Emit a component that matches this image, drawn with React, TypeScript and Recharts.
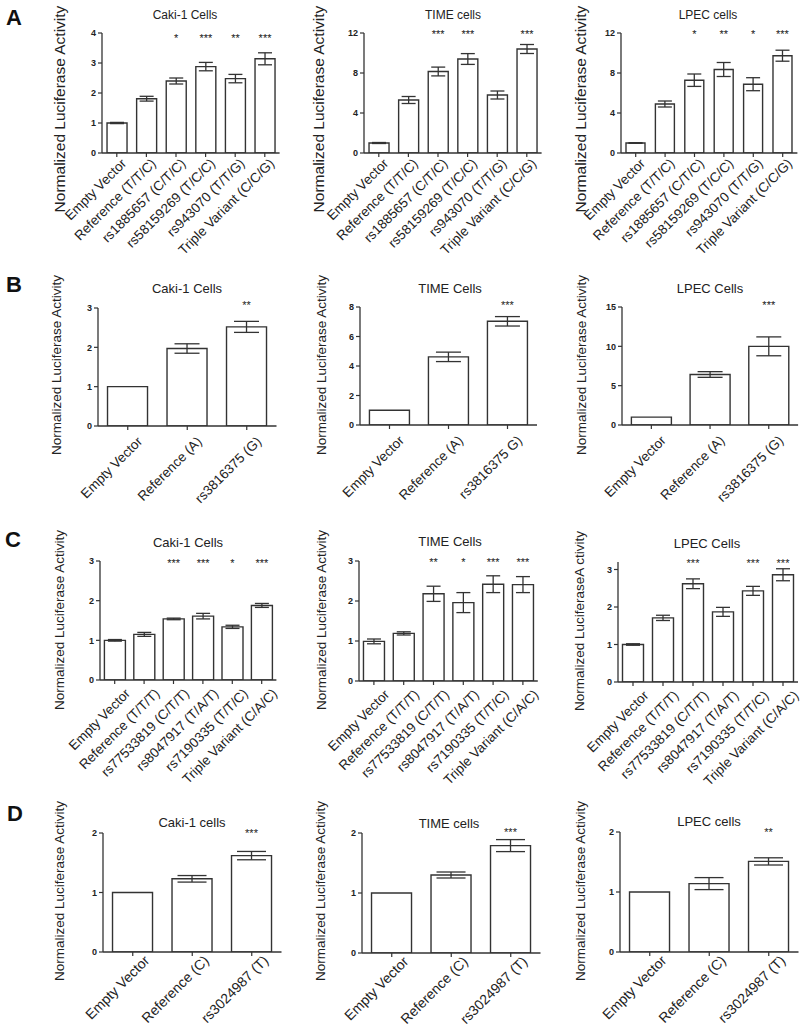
import React from 'react';
import { BarChart, Bar, XAxis, YAxis, ErrorBar, LabelList } from 'recharts';

// ---------- categories ----------
const catsA = ['Empty Vector', 'Reference (T/T/C)', 'rs1885657 (C/T/C)', 'rs58159269 (T/C/C)', 'rs943070 (T/T/G)', 'Triple Variant (C/C/G)'];
const catsB = ['Empty Vector', 'Reference (A)', 'rs3816375 (G)'];
const catsBTime = ['Empty Vector', 'Reference (A)', 'rs3816375 G)'];
const catsC = ['Empty Vector', 'Reference (T/T/T)', 'rs77533819 (C/T/T)', 'rs8047917 (T/A/T)', 'rs7190335 (T/T/C)', 'Triple Variant (C/A/C)'];
const catsD = ['Empty Vector', 'Reference (C)', 'rs3024987 (T)'];

// ---------- values, errors, significance ----------
const a1Values = [1.0, 1.81, 2.4, 2.88, 2.48, 3.14];
const a1Errors = [0.02, 0.08, 0.1, 0.14, 0.14, 0.2];
const a1Stars = ['', '', '*', '***', '**', '***'];

const a2Values = [1.0, 5.3, 8.15, 9.4, 5.8, 10.4];
const a2Errors = [0.05, 0.35, 0.44, 0.54, 0.4, 0.45];
const a2Stars = ['', '', '***', '***', '', '***'];

const a3Values = [1.0, 4.9, 7.28, 8.35, 6.88, 9.73];
const a3Errors = [0.03, 0.3, 0.62, 0.7, 0.65, 0.55];
const a3Stars = ['', '', '*', '**', '*', '***'];

const b1Values = [1.0, 1.97, 2.52];
const b1Errors = [0, 0.12, 0.14];
const b1Stars = ['', '', '**'];

const b2Values = [1.0, 4.62, 7.03];
const b2Errors = [0, 0.32, 0.32];
const b2Stars = ['', '', '***'];

const b3Values = [1.0, 6.42, 10.0];
const b3Errors = [0, 0.36, 1.2];
const b3Stars = ['', '', '***'];

const c1Values = [1.0, 1.15, 1.54, 1.61, 1.34, 1.88];
const c1Errors = [0.02, 0.05, 0.02, 0.07, 0.04, 0.05];
const c1Stars = ['', '', '***', '***', '*', '***'];

const c2Values = [0.99, 1.19, 2.18, 1.96, 2.42, 2.41];
const c2Errors = [0.06, 0.04, 0.19, 0.25, 0.21, 0.2];
const c2Stars = ['', '', '**', '*', '***', '***'];

const c3Values = [1.0, 1.71, 2.62, 1.87, 2.43, 2.86];
const c3Errors = [0.02, 0.07, 0.13, 0.12, 0.12, 0.16];
const c3Stars = ['', '', '***', '', '***', '***'];

const d1Values = [1.0, 1.23, 1.62];
const d1Errors = [0, 0.055, 0.07];
const d1Stars = ['', '', '***'];

const d2Values = [1.0, 1.3, 1.79];
const d2Errors = [0, 0.05, 0.1];
const d2Stars = ['', '', '***'];

const d3Values = [1.0, 1.14, 1.51];
const d3Errors = [0, 0.1, 0.06];
const d3Stars = ['', '', '**'];

// ---------- axis ticks ----------
const ticksA1 = [0, 1, 2, 3, 4];
const ticksA23 = [0, 4, 8, 12];
const ticksB1 = [0, 1, 2, 3];
const ticksB2 = [0, 2, 4, 6, 8];
const ticksB3 = [0, 5, 10, 15];
const ticksC = [0, 1, 2, 3];
const ticksD = [0, 1, 2];

// ---------- titles ----------
const yLabel = 'Normalized Luciferase Activity';
const yLabelTypo = 'Normalized LuciferaseA ctivity';

const FONT = '"Liberation Sans", Arial, Helvetica, sans-serif';
const INK = '#222222';

function build(cats: string[], values: number[], errors: number[], stars: string[]) {
  return cats.map((name, i) => ({ name, value: values[i], err: errors[i], stars: stars[i] }));
}

type PanelCfg = {
  data: any[];
  axisX: number;
  top: number;
  bottom: number;
  band: number;
  domain: [number, number];
  ticks: number[];
  cap: number;
  gap: string;
  catFont: number;
  tdx: number;
  tdy: number;
  starY: number;
  xh: number;
  title: string;
  titleX: number;
  titleY: number;
  titleFont: number;
  ylabel: string;
  ylX: number;
  ylY: number;
  ylFont: number;
};

const YW = 110;
const MT = 14;
const MR = 14;

function makeTick(fs: number, tdx: number, tdy: number) {
  return (props: any) => {
    const { x, y, payload } = props;
    return (
      <g transform={`translate(${x + tdx},${y + tdy})`}>
        <text x={0} y={0} dy="0.35em" textAnchor="end" transform="rotate(-45)" fontSize={fs} fill={INK} fontFamily={FONT}>
          {payload.value}
        </text>
      </g>
    );
  };
}

function Panel({ c }: { c: PanelCfg }) {
  const n = c.data.length;
  const plotW = n * c.band;
  const plotH = c.bottom - c.top;
  const W = YW + plotW + MR;
  const H = MT + plotH + c.xh;
  const starOffset = c.starY - c.top;
  const starContent = (p: any) => {
    const vb = p.viewBox || p;
    const cx = (vb.x ?? p.x) + (vb.width ?? p.width) / 2;
    const v = p.value;
    if (!v) return null;
    return (
      <text x={cx} y={MT + starOffset + 6} textAnchor="middle" fontSize={11} fill={INK} fontFamily={FONT}>
        {v}
      </text>
    );
  };
  return (
    <>
      <div style={{ position: 'absolute', left: c.axisX - YW, top: c.top - MT }}>
        <BarChart width={W} height={H} data={c.data} margin={{ top: MT, right: MR, left: 0, bottom: 0 }} barCategoryGap={c.gap}>
          <XAxis
            dataKey="name"
            height={c.xh}
            interval={0}
            tick={makeTick(c.catFont, c.tdx, c.tdy)}
            tickSize={4}
            axisLine={{ stroke: '#333', strokeWidth: 1.3 }}
            tickLine={{ stroke: '#333', strokeWidth: 1.2 }}
          />
          <YAxis
            width={YW}
            domain={c.domain}
            ticks={c.ticks}
            interval={0}
            tickSize={4}
            allowDataOverflow
            axisLine={{ stroke: '#333', strokeWidth: 1.3 }}
            tickLine={{ stroke: '#333', strokeWidth: 1.2 }}
            tick={{ fontSize: 9, fontWeight: 700, fill: INK, fontFamily: FONT }}
          />
          <Bar dataKey="value" fill="#ffffff" stroke="#333" strokeWidth={1.4} isAnimationActive={false}>
            <ErrorBar dataKey="err" width={c.cap / 2} stroke="#333" strokeWidth={1.3} isAnimationActive={false} />
            <LabelList dataKey="stars" content={starContent} />
          </Bar>
        </BarChart>
      </div>
      <div
        style={{
          position: 'absolute',
          left: c.titleX,
          top: c.titleY,
          transform: 'translate(-50%, -50%)',
          fontSize: c.titleFont,
          whiteSpace: 'nowrap',
          color: INK,
          lineHeight: 1,
        }}
      >
        {c.title}
      </div>
      <div
        style={{
          position: 'absolute',
          left: c.ylX,
          top: c.ylY,
          transform: 'translate(-50%, -50%) rotate(-90deg)',
          fontSize: c.ylFont,
          whiteSpace: 'nowrap',
          color: INK,
          lineHeight: 1,
        }}
      >
        {c.ylabel}
      </div>
    </>
  );
}

const panels: PanelCfg[] = [
  // Row A
  { data: build(catsA, a1Values, a1Errors, a1Stars), axisX: 102, top: 33, bottom: 153, band: 29.6, domain: [0, 4], ticks: ticksA1, cap: 14, gap: '17%', catFont: 13.5, tdx: 7, tdy: 2, starY: 36, xh: 118, title: 'Caki-1 Cells', titleX: 185, titleY: 15, titleFont: 12, ylabel: yLabel, ylX: 60, ylY: 109, ylFont: 15.5 },
  { data: build(catsA, a2Values, a2Errors, a2Stars), axisX: 364, top: 33, bottom: 153, band: 29.6, domain: [0, 12], ticks: ticksA23, cap: 14, gap: '17%', catFont: 13.5, tdx: 7, tdy: 2, starY: 32, xh: 118, title: 'TIME cells', titleX: 453, titleY: 15, titleFont: 12, ylabel: yLabel, ylX: 319, ylY: 109, ylFont: 15.5 },
  { data: build(catsA, a3Values, a3Errors, a3Stars), axisX: 620.5, top: 33, bottom: 153, band: 29.4, domain: [0, 12], ticks: ticksA23, cap: 14, gap: '17%', catFont: 13.5, tdx: 7, tdy: 2, starY: 32, xh: 118, title: 'LPEC cells', titleX: 708, titleY: 15, titleFont: 12, ylabel: yLabel, ylX: 581, ylY: 109, ylFont: 15.5 },
  // Row B
  { data: build(catsB, b1Values, b1Errors, b1Stars), axisX: 98, top: 308, bottom: 426, band: 59.5, domain: [0, 3], ticks: ticksB1, cap: 25, gap: '16%', catFont: 13.5, tdx: 12, tdy: 7, starY: 303, xh: 100, title: 'Caki-1 Cells', titleX: 187, titleY: 288, titleFont: 13, ylabel: yLabel, ylX: 57, ylY: 365, ylFont: 13.5 },
  { data: build(catsBTime, b2Values, b2Errors, b2Stars), axisX: 360, top: 307, bottom: 425, band: 59, domain: [0, 8], ticks: ticksB2, cap: 25, gap: '16%', catFont: 13.5, tdx: 12, tdy: 7, starY: 303, xh: 100, title: 'TIME Cells', titleX: 450, titleY: 288, titleFont: 13, ylabel: yLabel, ylX: 322, ylY: 365, ylFont: 13.5 },
  { data: build(catsB, b3Values, b3Errors, b3Stars), axisX: 622, top: 307, bottom: 425, band: 58.7, domain: [0, 15], ticks: ticksB3, cap: 25, gap: '16%', catFont: 13.5, tdx: 12, tdy: 7, starY: 303, xh: 100, title: 'LPEC Cells', titleX: 710, titleY: 288, titleFont: 13, ylabel: yLabel, ylX: 582, ylY: 365, ylFont: 13.5 },
  // Row C
  { data: build(catsC, c1Values, c1Errors, c1Stars), axisX: 100, top: 561, bottom: 680, band: 29.4, domain: [0, 3], ticks: ticksC, cap: 14, gap: '15%', catFont: 13.5, tdx: 13, tdy: 5, starY: 561, xh: 125, title: 'Caki-1 Cells', titleX: 188, titleY: 542, titleFont: 13, ylabel: yLabel, ylX: 60, ylY: 620, ylFont: 13.5 },
  { data: build(catsC, c2Values, c2Errors, c2Stars), axisX: 359, top: 561, bottom: 681, band: 29.8, domain: [0, 3], ticks: ticksC, cap: 14, gap: '15%', catFont: 13.5, tdx: 13, tdy: 5, starY: 560, xh: 125, title: 'TIME Cells', titleX: 450, titleY: 541, titleFont: 13, ylabel: yLabel, ylX: 322, ylY: 620, ylFont: 13.5 },
  { data: build(catsC, c3Values, c3Errors, c3Stars), axisX: 617.5, top: 562, bottom: 682, band: 30, domain: [0, 3.2], ticks: ticksC, cap: 14, gap: '15%', catFont: 13.5, tdx: 13, tdy: 5, starY: 561, xh: 125, title: 'LPEC Cells', titleX: 707, titleY: 543, titleFont: 13, ylabel: yLabelTypo, ylX: 580, ylY: 621, ylFont: 13.5 },
  // Row D
  { data: build(catsD, d1Values, d1Errors, d1Stars), axisX: 103, top: 833, bottom: 952, band: 59.5, domain: [0, 2], ticks: ticksD, cap: 29, gap: '16%', catFont: 14, tdx: 14, tdy: 0, starY: 831, xh: 76, title: 'Caki-1 cells', titleX: 192, titleY: 822, titleFont: 13, ylabel: yLabel, ylX: 60, ylY: 891, ylFont: 13.5 },
  { data: build(catsD, d2Values, d2Errors, d2Stars), axisX: 362, top: 833, bottom: 953, band: 59.5, domain: [0, 2], ticks: ticksD, cap: 29, gap: '16%', catFont: 14, tdx: 14, tdy: 0, starY: 830, xh: 75, title: 'TIME cells', titleX: 449, titleY: 823, titleFont: 13, ylabel: yLabel, ylX: 321, ylY: 891, ylFont: 13.5 },
  { data: build(catsD, d3Values, d3Errors, d3Stars), axisX: 620, top: 832, bottom: 952, band: 59.5, domain: [0, 2], ticks: ticksD, cap: 29, gap: '16%', catFont: 14, tdx: 14, tdy: 0, starY: 830, xh: 76, title: 'LPEC cells', titleX: 709, titleY: 821, titleFont: 13, ylabel: yLabel, ylX: 581, ylY: 891, ylFont: 13.5 },
];

const letters = [
  { t: 'A', x: 14, y: 18 },
  { t: 'B', x: 14, y: 285 },
  { t: 'C', x: 13, y: 540 },
  { t: 'D', x: 15, y: 814 },
];

export default function App() {
  return (
    <div
      style={{
        position: 'absolute',
        left: 0,
        top: 0,
        width: 800,
        height: 1028,
        background: '#ffffff',
        overflow: 'hidden',
        fontFamily: FONT,
      }}
    >
      {letters.map((l) => (
        <div
          key={l.t}
          style={{
            position: 'absolute',
            left: l.x,
            top: l.y,
            transform: 'translate(-50%, -50%)',
            fontSize: 22,
            fontWeight: 700,
            color: '#111',
            lineHeight: 1,
          }}
        >
          {l.t}
        </div>
      ))}
      {panels.map((c, i) => (
        <Panel key={i} c={c} />
      ))}
    </div>
  );
}
